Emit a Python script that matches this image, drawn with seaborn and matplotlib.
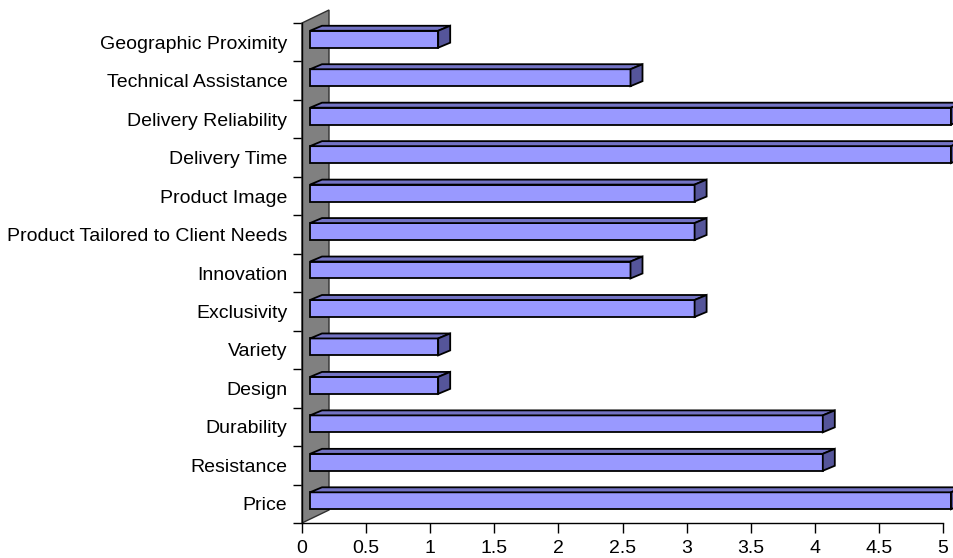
import matplotlib
matplotlib.use("Agg")
import matplotlib.pyplot as plt
from matplotlib.patches import Polygon
from matplotlib.transforms import ScaledTranslation
import seaborn as sns
import pandas as pd

categories = ["Geographic Proximity", "Technical Assistance", "Delivery Reliability",
              "Delivery Time", "Product Image", "Product Tailored to Client Needs",
              "Innovation", "Exclusivity", "Variety", "Design", "Durability",
              "Resistance", "Price"]
values = [1, 2.5, 5, 5, 3, 3, 2.5, 3, 1, 1, 4, 4, 5]
x_ticks = [0, 0.5, 1, 1.5, 2, 2.5, 3, 3.5, 4, 4.5, 5]
x_tick_labels = ["0", "0.5", "1", "1.5", "2", "2.5", "3", "3.5", "4", "4.5", "5"]

df = pd.DataFrame({"category": categories, "value": values})

sns.set_theme(style="white")
plt.rcParams["font.family"] = ["Liberation Sans", "DejaVu Sans"]
plt.rcParams["text.color"] = "black"
plt.rcParams["xtick.color"] = "black"
plt.rcParams["ytick.color"] = "black"

W, H = 954, 558
fig = plt.figure(figsize=(W / 100, H / 100), dpi=100)
ax = fig.add_axes([302 / W, 1 - 523 / H, 641 / W, 500 / H])

sns.barplot(data=df, x="value", y="category", orient="h", ax=ax,
            color="#9999FF", saturation=1, width=0.44,
            edgecolor="black", linewidth=1.3, zorder=3)

ax.set_xlim(0, 5)
ax.set_ylim(len(categories) - 0.5, -0.5)

# pixel scale
px_x = 5 / 641.0
px_y = len(categories) / 500.0

# gray wall (drawn in data coords)
wall = Polygon([(0, 12.5), (27 * px_x, 12.5 - 13 * px_y),
                (27 * px_x, -0.5 - 13 * px_y), (0, -0.5)],
               closed=True, facecolor="#808080", edgecolor="#303030",
               linewidth=1.0, zorder=1, clip_on=False)
ax.add_patch(wall)

shift = ax.transData + ScaledTranslation(8 / 100, 3 / 100, fig.dpi_scale_trans)
ddx = 12 * px_x
ddy = 5 * px_y
for p in list(ax.patches):
    if p is wall:
        continue
    p.set_transform(shift)
    p.set_clip_on(False)
    x0 = p.get_x()
    x1 = x0 + p.get_width()
    yt = p.get_y()
    yb = yt + p.get_height()
    top = Polygon([(x0, yt), (x1, yt), (x1 + ddx, yt - ddy), (x0 + ddx, yt - ddy)],
                  closed=True, facecolor="#7373C4", edgecolor="black",
                  linewidth=1.3, transform=shift, zorder=3, clip_on=False)
    side = Polygon([(x1, yt), (x1 + ddx, yt - ddy), (x1 + ddx, yb - ddy), (x1, yb)],
                   closed=True, facecolor="#55559A", edgecolor="black",
                   linewidth=1.3, transform=shift, zorder=3, clip_on=False)
    ax.add_patch(top)
    ax.add_patch(side)

for s in ["top", "right"]:
    ax.spines[s].set_visible(False)
for s in ["left", "bottom"]:
    ax.spines[s].set_color("black")
    ax.spines[s].set_linewidth(1.0)
    ax.spines[s].set_zorder(2)

ax.set_xticks(x_ticks)
ax.set_xticklabels(x_tick_labels)
ax.tick_params(axis="x", direction="out", length=7.2, width=1, color="black",
               labelsize=14, pad=5, bottom=True, labelcolor="black")
ax.set_yticks(range(len(categories)))
ax.set_yticklabels(categories)
ax.set_yticks([i - 0.5 for i in range(len(categories) + 1)], minor=True)
ax.tick_params(axis="y", which="major", length=0, labelsize=14, pad=10.5,
               labelcolor="black")
ax.tick_params(axis="y", which="minor", direction="out", length=6.5, width=1,
               color="black", left=True)
ax.set_xlabel("")
ax.set_ylabel("")
ax.grid(False)

fig.savefig("out.png", dpi=100)
